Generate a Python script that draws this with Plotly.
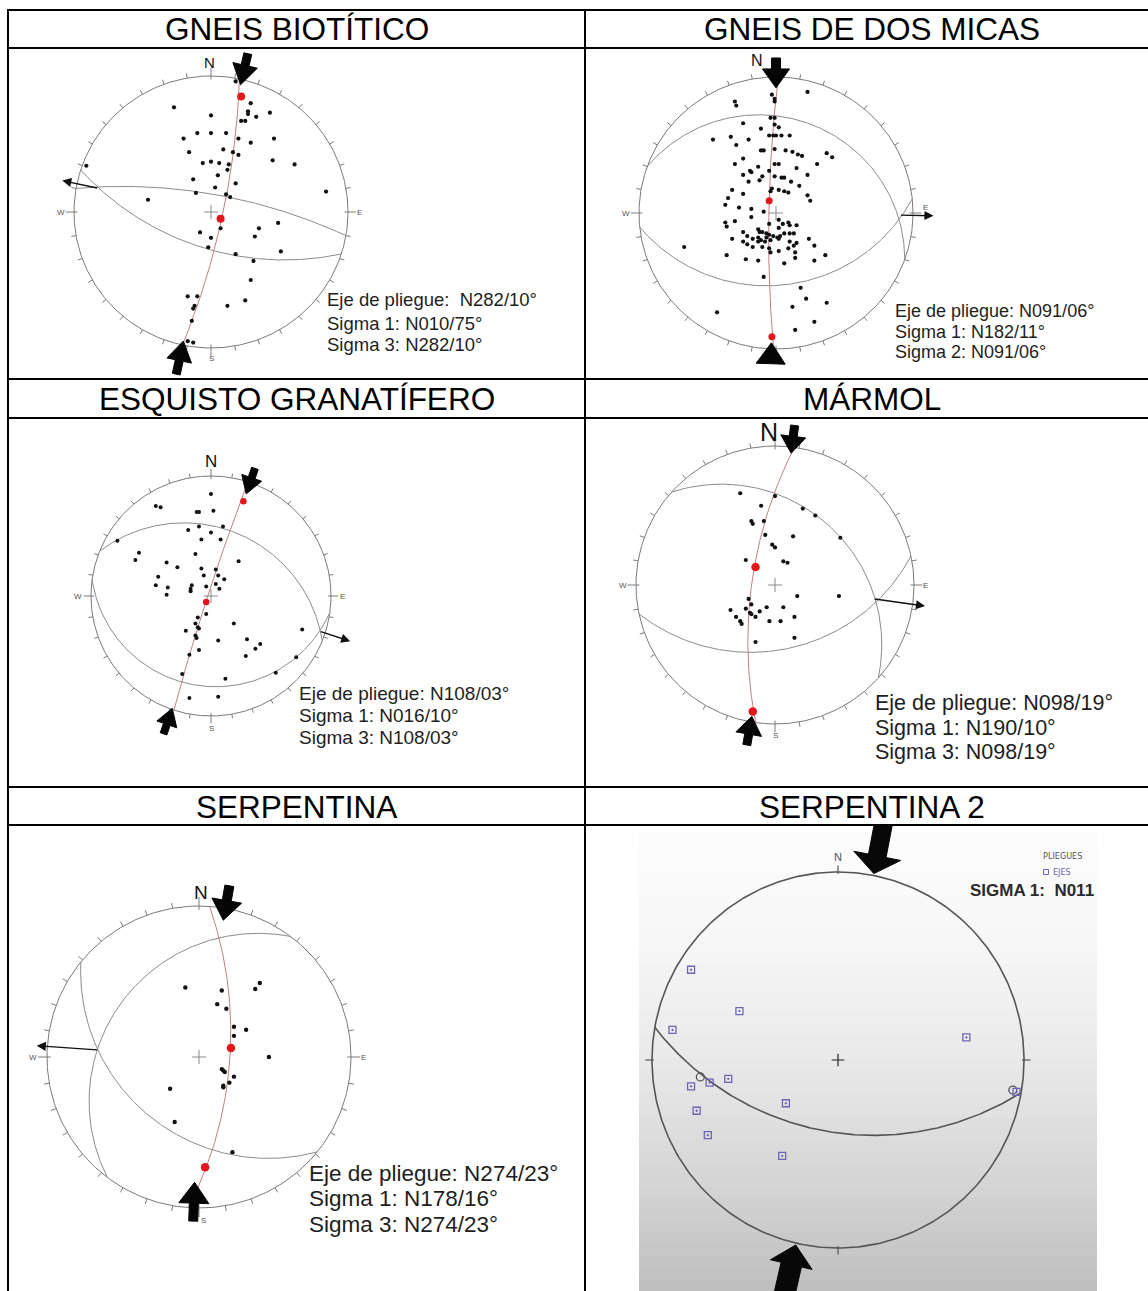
import numpy as np
import plotly.graph_objects as go

W, H = 1148, 1291

titles = ["GNEIS BIOTÍTICO", "GNEIS DE DOS MICAS", "ESQUISTO GRANATÍFERO",
          "MÁRMOL", "SERPENTINA", "SERPENTINA 2"]

# ---------------- Gneis biotítico (projected poles, unit net coords) ----------------
gb_pole_x = [0.18, 0.29, -0.27, 0.27, 0.27, 0.43, 0.00, 0.33, 0.22, 0.25,
             -0.20, -0.10, 0.00, 0.11, 0.20, 0.29, 0.46, -0.16, 0.09, 0.16,
             0.20, -0.06, 0.00, 0.06, 0.13, 0.12, 0.45, 0.61, 0.05, -0.13,
             0.18, 0.03, -0.46, 0.11, 0.14, -0.11, 0.84, 0.07, -0.08, 0.00,
             0.35, 0.32, 0.49, -0.02, 0.51, 0.18, 0.31, 0.29, -0.17, -0.10,
             0.25, 0.12, -0.12, -0.13, -0.14, -0.17, -0.13, -0.91]
gb_pole_y = [0.96, 0.80, 0.77, 0.74, 0.72, 0.73, 0.71, 0.70, 0.67, 0.67,
             0.54, 0.58, 0.58, 0.58, 0.54, 0.51, 0.54, 0.44, 0.46, 0.44,
             0.42, 0.36, 0.37, 0.36, 0.35, 0.31, 0.38, 0.35, 0.27, 0.24,
             0.21, 0.18, 0.09, 0.13, 0.11, 0.14, 0.15, -0.12, -0.15, -0.19,
             -0.12, -0.18, -0.08, -0.26, -0.29, -0.31, -0.36, -0.50, -0.62, -0.62,
             -0.65, -0.69, -0.69, -0.71, -0.80, -0.95, -0.96, 0.34]
gb_sigma_x = [0.22, 0.07]
gb_sigma_y = [0.85, -0.05]
gb_plane_dd = [10, 198]
gb_plane_dip = [75, 60]
gb_axis = (282, 10)
gb_arrow_trend = [13, 192]
gb_arrow_tip = [0.96, 0.97]
gb_notes = ["Eje de pliegue: \u00a0N282/10°", "Sigma 1: N010/75°", "Sigma 3: N282/10°"]

# ---------------- Gneis de dos micas ----------------
gm_pole_x = [0.23, -0.03, -0.01, -0.01, -0.30, -0.29, -0.04, -0.01, -0.24, -0.01,
             -0.11, 0.02, -0.46, -0.33, -0.20, -0.05, -0.02, 0.00, 0.04, 0.10,
             -0.29, -0.01, 0.07, 0.12, 0.16, 0.19, 0.37, 0.41, -0.11, -0.09,
             -0.24, -0.01, 0.02, -0.30, -0.13, 0.15, 0.30, -0.19, -0.18, -0.05,
             -0.24, -0.10, -0.01, 0.04, 0.06, -0.20, -0.12, 0.11, 0.17, 0.23,
             -0.04, -0.03, 0.02, 0.06, 0.09, -0.32, -0.24, -0.35, 0.23, 0.25,
             -0.37, -0.27, -0.18, -0.09, -0.18, 0.02, -0.37, -0.36, -0.30, -0.05,
             0.05, 0.09, 0.10, 0.15, 0.02, -0.24, -0.13, -0.12, -0.10, -0.07,
             -0.05, -0.02, -0.21, -0.17, -0.13, -0.11, -0.07, 0.01, 0.03, 0.06,
             0.10, 0.13, -0.24, -0.21, -0.17, -0.13, -0.32, -0.08, -0.04, 0.02,
             0.10, 0.15, -0.10, -0.05, 0.02, 0.09, 0.13, 0.24, -0.36, -0.22,
             -0.13, -0.04, 0.06, 0.14, 0.14, 0.28, 0.36, 0.28, -0.09, -0.67,
             -0.43, 0.18, 0.22, 0.37, 0.12, 0.28, 0.14]
gm_pole_y = [0.89, 0.87, 0.84, 0.82, 0.82, 0.79, 0.70, 0.70, 0.66, 0.65,
             0.62, 0.63, 0.54, 0.56, 0.54, 0.57, 0.57, 0.57, 0.57, 0.57,
             0.50, 0.47, 0.46, 0.45, 0.43, 0.42, 0.44, 0.41, 0.46, 0.46,
             0.40, 0.36, 0.36, 0.36, 0.34, 0.33, 0.36, 0.31, 0.30, 0.31,
             0.28, 0.27, 0.27, 0.26, 0.26, 0.23, 0.24, 0.23, 0.20, 0.28,
             0.16, 0.18, 0.17, 0.16, 0.15, 0.17, 0.14, 0.11, 0.13, 0.09,
             0.06, 0.04, 0.03, 0.01, -0.03, -0.05, -0.07, -0.10, -0.06, -0.08,
             -0.08, -0.07, -0.09, -0.09, -0.11, -0.14, -0.12, -0.14, -0.14, -0.15,
             -0.16, -0.17, -0.17, -0.19, -0.18, -0.20, -0.18, -0.18, -0.17, -0.15,
             -0.15, -0.15, -0.21, -0.23, -0.25, -0.21, -0.19, -0.21, -0.20, -0.19,
             -0.21, -0.22, -0.25, -0.26, -0.28, -0.26, -0.24, -0.19, -0.31, -0.34,
             -0.35, -0.29, -0.37, -0.29, -0.33, -0.24, -0.31, -0.35, -0.47, -0.25,
             -0.73, -0.55, -0.63, -0.66, -0.69, -0.80, -0.86]
gm_sigma_x = [-0.05, -0.03]
gm_sigma_y = [0.09, -0.91]
gm_plane_dd = [20, 174]
gm_plane_dip = [20, 34]
gm_axis = (91, 6)
gm_arrow_trend = [0, 182]
gm_arrow_tip = [0.92, 0.955]
gm_notes = ["Eje de pliegue: N091/06°", "Sigma 1: N182/11°", "Sigma 2: N091/06°"]

# ---------------- Esquisto granatífero ----------------
eg_pole_x = [0.00, -0.46, -0.42, -0.12, -0.10, 0.02, -0.19, -0.10, 0.00, 0.10,
             -0.78, -0.08, 0.08, -0.60, -0.63, -0.13, -0.37, -0.28, 0.23, -0.08,
             0.04, -0.44, -0.06, 0.06, 0.11, -0.46, -0.36, -0.16, -0.17, -0.17,
             -0.04, 0.04, 0.07, -0.37, -0.04, -0.11, -0.13, -0.11, -0.10, -0.21,
             -0.13, -0.12, 0.19, 0.76, 0.06, 0.30, 0.41, 0.37, -0.10, -0.18,
             0.29, 0.71, 0.54, -0.24, 0.12, -0.18, 0.06]
eg_pole_y = [0.85, 0.75, 0.74, 0.70, 0.70, 0.71, 0.55, 0.58, 0.53, 0.58,
             0.46, 0.47, 0.47, 0.36, 0.30, 0.35, 0.28, 0.24, 0.29, 0.23,
             0.22, 0.16, 0.17, 0.17, 0.14, 0.09, 0.07, 0.09, 0.06, 0.04,
             0.08, 0.10, 0.06, 0.01, -0.15, -0.18, -0.23, -0.26, -0.27, -0.29,
             -0.33, -0.35, -0.23, -0.28, -0.37, -0.36, -0.40, -0.44, -0.45, -0.49,
             -0.50, -0.51, -0.64, -0.65, -0.69, -0.85, -0.84]
eg_sigma_x = [0.27, -0.04]
eg_sigma_y = [0.79, -0.05]
eg_plane_dd = [22, 188]
eg_plane_dip = [31, 16]
eg_axis = (108, 3)
eg_arrow_trend = [19, 199]
eg_arrow_tip = [0.90, 0.99]
eg_notes = ["Eje de pliegue: N108/03°", "Sigma 1: N016/10°", "Sigma 3: N108/03°"]

# ---------------- Mármol ----------------
ma_pole_x = [-0.25, 0.00, -0.10, 0.20, 0.29, -0.17, -0.16, -0.08, -0.07, 0.13,
             0.47, -0.02, 0.00, -0.21, 0.06, 0.09, 0.16, 0.46, -0.19, -0.17,
             -0.32, -0.21, -0.18, -0.17, -0.11, -0.06, 0.06, -0.28, -0.25, -0.24,
             -0.14, -0.04, 0.04, 0.14, 0.14, -0.14]
ma_pole_y = [0.66, 0.64, 0.57, 0.55, 0.50, 0.46, 0.44, 0.46, 0.36, 0.35,
             0.34, 0.29, 0.27, 0.18, 0.17, 0.16, -0.08, -0.08, -0.10, -0.14,
             -0.18, -0.17, -0.20, -0.21, -0.19, -0.16, -0.16, -0.23, -0.26, -0.28,
             -0.23, -0.26, -0.26, -0.23, -0.38, -0.41]
ma_sigma_x = [-0.14, -0.16]
ma_sigma_y = [0.13, -0.91]
ma_plane_dd = [42, 168]
ma_plane_dip = [30, 40]
ma_axis = (98, 19)
ma_arrow_trend = [7, 190]
ma_arrow_tip = [0.955, 0.96]
ma_notes = ["Eje de pliegue: N098/19°", "Sigma 1: N190/10°", "Sigma 3: N098/19°"]

# ---------------- Serpentina ----------------
se_pole_x = [-0.09, 0.15, 0.40, 0.37, 0.12, 0.18, 0.23, 0.31, 0.23, 0.46,
             0.15, 0.16, 0.17, 0.23, 0.20, 0.16, 0.16, -0.19, -0.16, 0.22]
se_pole_y = [0.46, 0.44, 0.49, 0.45, 0.35, 0.32, 0.20, 0.18, 0.14, 0.00,
             -0.08, -0.09, -0.10, -0.13, -0.17, -0.19, -0.20, -0.21, -0.43, -0.63]
se_sigma_x = [0.21, 0.04]
se_sigma_y = [0.06, -0.73]
se_plane_dd = [307, 219]
se_plane_dip = [26, 36]
se_axis = (274, 23)
se_arrow_trend = [10, 182]
se_arrow_tip = [0.92, 0.83]
se_notes = ["Eje de pliegue: N274/23°", "Sigma 1: N178/16°", "Sigma 3: N274/23°"]

# ---------------- Serpentina 2 (fold axes plotted as squares) ----------------
s2_axes_x = [-0.79, -0.53, -0.89, 0.69, -0.69, -0.59, -0.79, -0.28, -0.76, -0.70, -0.30, 0.96]
s2_axes_y = [0.48, 0.26, 0.16, 0.12, -0.12, -0.10, -0.14, -0.23, -0.27, -0.40, -0.51, -0.17]
s2_beta_x = [-0.74, 0.94]
s2_beta_y = [-0.09, -0.16]
s2_plane_dd = [190]
s2_plane_dip = [48]
s2_arrow_trend = [11, 193]
s2_arrow_tip = [1.01, 1.01]
s2_label = "SIGMA 1: \u00a0N011"


# ---------------- geometry helpers (lower hemisphere, stereographic) ----------------
def stereo(trend, plunge):
    t = np.radians(np.asarray(trend, float))
    p = np.radians(np.asarray(plunge, float))
    r = np.tan((np.pi / 2 - p) / 2)
    return r * np.sin(t), r * np.cos(t)


def great_circle(dd, dip, n=241):
    a = np.radians(dd)
    s = a - np.pi / 2
    d = np.radians(dip)
    t = np.linspace(0, np.pi, n)
    north = np.cos(t) * np.cos(s) + np.sin(t) * np.cos(d) * np.cos(a)
    east = np.cos(t) * np.sin(s) + np.sin(t) * np.cos(d) * np.sin(a)
    down = np.sin(t) * np.sin(d)
    trend = np.degrees(np.arctan2(east, north))
    plunge = np.degrees(np.arcsin(np.clip(down, -1, 1)))
    return stereo(trend, plunge)


def tick_marks(step, card_in, card_out, minor_out):
    xs, ys = [], []
    for a in range(0, 360, step):
        r0, r1 = (card_in, card_out) if a % 90 == 0 else (1.0, minor_out)
        t = np.radians(a)
        xs += [r0 * np.sin(t), r1 * np.sin(t), None]
        ys += [r0 * np.cos(t), r1 * np.cos(t), None]
    return xs, ys


def big_arrow(trend, tip_r, size, rpx):
    hl, hw, sl, sw = size
    t = np.radians(trend)
    out = np.array([np.sin(t), np.cos(t)])
    d = -out
    nrm = np.array([out[1], -out[0]])
    tip = tip_r * out
    base = tip - d * hl / rpx
    end = base - d * sl / rpx
    hw2, sw2 = hw / 2 / rpx, sw / 2 / rpx
    pts = [tip, base + nrm * hw2, base + nrm * sw2, end + nrm * sw2,
           end - nrm * sw2, base - nrm * sw2, base - nrm * hw2, tip]
    return [p[0] for p in pts], [p[1] for p in pts]


panels = [
    dict(cell=(8, 48, 585, 379), c=(211, 212), r=(137, 136),
         poles=(gb_pole_x, gb_pole_y), sig=(gb_sigma_x, gb_sigma_y),
         planes=(gb_plane_dd, gb_plane_dip), axis=gb_axis,
         arrows=(gb_arrow_trend, gb_arrow_tip), asize=[(20, 25, 12, 8), (20, 25, 14, 8)],
         axis_end=1.11, notes=gb_notes, note_x=325, note_y=[300, 323, 345], note_size=18.5,
         north=(-0.01, 1.10, 15), cards=[("W", -1.05, 0, "right"), ("E", 1.05, 0, "left"), ("S", 0, -1.08, "center")],
         dot=4.2, red=8),
    dict(cell=(585, 48, 1148, 379), c=(776, 213), r=(137, 136),
         poles=(gm_pole_x, gm_pole_y), sig=(gm_sigma_x, gm_sigma_y),
         planes=(gm_plane_dd, gm_plane_dip), axis=gm_axis,
         arrows=(gm_arrow_trend, gm_arrow_tip), asize=[(19, 27, 11, 9), (21, 29, 0, 0)],
         axis_end=1.15, notes=gm_notes, note_x=893, note_y=[311, 332, 352], note_size=18,
         north=(-0.14, 1.12, 16), cards=[("W", -1.05, 0, "right"), ("E", 1.06, 0.04, "left")],
         dot=4.2, red=7),
    dict(cell=(8, 418, 585, 787), c=(211, 596), r=(120, 120),
         poles=(eg_pole_x, eg_pole_y), sig=(eg_sigma_x, eg_sigma_y),
         planes=(eg_plane_dd, eg_plane_dip), axis=eg_axis,
         arrows=(eg_arrow_trend, eg_arrow_tip), asize=[(17, 21, 10, 7), (17, 21, 10, 7)],
         axis_end=1.22, notes=eg_notes, note_x=297, note_y=[693, 715, 737], note_size=19,
         north=(0.0, 1.12, 17), cards=[("W", -1.06, 0, "right"), ("E", 1.06, 0, "left"), ("S", 0, -1.1, "center")],
         dot=4.0, red=6.5),
    dict(cell=(585, 418, 1148, 787), c=(775, 585), r=(139, 139),
         poles=(ma_pole_x, ma_pole_y), sig=(ma_sigma_x, ma_sigma_y),
         planes=(ma_plane_dd, ma_plane_dip), axis=ma_axis,
         arrows=(ma_arrow_trend, ma_arrow_tip), asize=[(17, 25, 11, 8), (18, 26, 11, 8)],
         axis_end=1.09, notes=ma_notes, note_x=873, note_y=[703, 728, 752], note_size=21.5,
         north=(-0.04, 1.10, 25), cards=[("W", -1.05, 0, "right"), ("E", 1.05, 0, "left"), ("S", 0, -1.08, "center")],
         dot=4.2, red=8.5),
    dict(cell=(8, 825, 585, 1291), c=(199, 1057), r=(152, 151),
         poles=(se_pole_x, se_pole_y), sig=(se_sigma_x, se_sigma_y),
         planes=(se_plane_dd, se_plane_dip), axis=se_axis,
         arrows=(se_arrow_trend, se_arrow_tip), asize=[(20, 30, 15, 9), (21, 30, 18, 9)],
         axis_end=1.07, notes=se_notes, note_x=307, note_y=[1173, 1198, 1224], note_size=22.5,
         north=(0.01, 1.09, 19), cards=[("W", -1.05, 0, "right"), ("E", 1.05, 0, "left"), ("S", 0.03, -1.08, "center")],
         dot=4.4, red=8.5),
]

fig = go.Figure()
annotations = []
shapes = []
layout_axes = {}


def axis_names(k):
    return ("x" if k == 1 else f"x{k}", "y" if k == 1 else f"y{k}",
            "xaxis" if k == 1 else f"xaxis{k}", "yaxis" if k == 1 else f"yaxis{k}")


def set_axes(k, cell, c, r):
    xa, ya, xk, yk = axis_names(k)
    x0, y0, x1, y1 = cell
    cx, cy = c
    rx, ry = r
    layout_axes[xk] = dict(domain=[x0 / W, x1 / W], range=[(x0 - cx) / rx, (x1 - cx) / rx],
                           visible=False, fixedrange=True, anchor=ya)
    layout_axes[yk] = dict(domain=[1 - y1 / H, 1 - y0 / H], range=[(cy - y1) / ry, (cy - y0) / ry],
                           visible=False, fixedrange=True, anchor=xa)
    return xa, ya


# ---- background gradient of the Serpentina 2 screenshot ----
n_band = 40
for i in range(n_band):
    ya0 = 825 + i * (1291 - 825) / n_band
    ya1 = ya0 + (1291 - 825) / n_band + 0.5
    tt = (i + 0.5) / n_band
    g = int(round(252 - 62 * tt ** 1.7))
    shapes.append(dict(type="rect", xref="paper", yref="paper", layer="below",
                       x0=639 / W, x1=1097 / W, y0=1 - ya1 / H, y1=1 - ya0 / H,
                       line=dict(width=0), fillcolor=f"rgb({g},{g},{g})"))

prim_t = np.linspace(0, 2 * np.pi, 361)

for k, p in enumerate(panels, start=1):
    xa, ya = set_axes(k, p["cell"], p["c"], p["r"])
    rpx = (p["r"][0] + p["r"][1]) / 2
    # primitive circle and ticks
    fig.add_trace(go.Scatter(x=np.sin(prim_t), y=np.cos(prim_t), mode="lines",
                             line=dict(color="#7a7a7a", width=1), xaxis=xa, yaxis=ya, hoverinfo="skip"))
    tx, ty = tick_marks(10, 0.975, 1.06, 1.035)
    fig.add_trace(go.Scatter(x=tx, y=ty, mode="lines", line=dict(color="#7a7a7a", width=1),
                             xaxis=xa, yaxis=ya, hoverinfo="skip"))
    # cyclographic traces of the fold limbs
    for dd, dip in zip(*p["planes"]):
        gx, gy = great_circle(dd, dip)
        fig.add_trace(go.Scatter(x=gx, y=gy, mode="lines", line=dict(color="#8c8c8c", width=1),
                                 xaxis=xa, yaxis=ya, hoverinfo="skip"))
    # plane normal to the fold axis (sigma plane)
    tr, pl = p["axis"]
    rx_, ry_ = great_circle((tr + 180) % 360, 90 - pl)
    fig.add_trace(go.Scatter(x=rx_, y=ry_, mode="lines", line=dict(color="#c07f82", width=1),
                             xaxis=xa, yaxis=ya, hoverinfo="skip"))
    # centre cross
    fig.add_trace(go.Scatter(x=[0], y=[0], mode="markers",
                             marker=dict(symbol="cross-thin", size=10, line=dict(color="#8a8a8a", width=1)),
                             xaxis=xa, yaxis=ya, hoverinfo="skip"))
    # poles
    fig.add_trace(go.Scatter(x=p["poles"][0], y=p["poles"][1], mode="markers",
                             marker=dict(size=p["dot"], color="#111111"),
                             xaxis=xa, yaxis=ya, hoverinfo="skip"))
    # principal stress positions
    fig.add_trace(go.Scatter(x=p["sig"][0], y=p["sig"][1], mode="markers",
                             marker=dict(size=p["red"], color="#e3161c"),
                             xaxis=xa, yaxis=ya, hoverinfo="skip"))
    # compression arrows
    for trd, tip, size in zip(p["arrows"][0], p["arrows"][1], p["asize"]):
        axs, ays = big_arrow(trd, tip, size, rpx)
        fig.add_trace(go.Scatter(x=axs, y=ays, mode="lines", fill="toself", fillcolor="#050505",
                                 line=dict(color="#050505", width=1), xaxis=xa, yaxis=ya, hoverinfo="skip"))
    # extension arrow from the fold axis
    fx, fy = stereo(tr, pl)
    ex, ey = stereo(tr, 0)
    annotations.append(dict(x=float(ex) * p["axis_end"], y=float(ey) * p["axis_end"],
                            ax=float(fx), ay=float(fy), xref=xa, yref=ya, axref=xa, ayref=ya,
                            showarrow=True, arrowhead=2, arrowsize=1.3, arrowwidth=1.4,
                            arrowcolor="#111111", text=""))
    # north and cardinal labels
    nx, ny, ns = p["north"]
    annotations.append(dict(x=nx, y=ny, xref=xa, yref=ya, text="N", showarrow=False,
                            font=dict(size=ns, color="#111111")))
    for lab, lx, ly, anc in p["cards"]:
        annotations.append(dict(x=lx, y=ly, xref=xa, yref=ya, text=lab, showarrow=False,
                                xanchor=anc, font=dict(size=8, color="#555555")))
    # notes
    for txt, yy in zip(p["notes"], p["note_y"]):
        annotations.append(dict(x=p["note_x"] / W, y=1 - yy / H, xref="paper", yref="paper",
                                text=txt, showarrow=False, xanchor="left", yanchor="middle",
                                font=dict(size=p["note_size"], color="#1e1e1e")))

# ---------------- Serpentina 2 ----------------
k6 = 6
s2_c, s2_r = (838, 1060), (186, 188)
xa, ya = set_axes(k6, (585, 825, 1148, 1291), s2_c, s2_r)
fig.add_trace(go.Scatter(x=np.sin(prim_t), y=np.cos(prim_t), mode="lines",
                         line=dict(color="#555555", width=1.6), xaxis=xa, yaxis=ya, hoverinfo="skip"))
tx, ty = tick_marks(90, 0.99, 1.035, 1.0)
fig.add_trace(go.Scatter(x=tx, y=ty, mode="lines", line=dict(color="#555555", width=1.2),
                         xaxis=xa, yaxis=ya, hoverinfo="skip"))
for dd, dip in zip(s2_plane_dd, s2_plane_dip):
    gx, gy = great_circle(dd, dip)
    fig.add_trace(go.Scatter(x=gx, y=gy, mode="lines", line=dict(color="#555555", width=1.6),
                             xaxis=xa, yaxis=ya, hoverinfo="skip"))
fig.add_trace(go.Scatter(x=[0], y=[0], mode="markers",
                         marker=dict(symbol="cross-thin", size=9, line=dict(color="#222222", width=1.2)),
                         xaxis=xa, yaxis=ya, hoverinfo="skip"))
fig.add_trace(go.Scatter(x=s2_beta_x, y=s2_beta_y, mode="markers",
                         marker=dict(symbol="circle-open", size=8, color="#555555",
                                     line=dict(color="#555555", width=1.3)),
                         xaxis=xa, yaxis=ya, hoverinfo="skip"))
fig.add_trace(go.Scatter(x=s2_axes_x, y=s2_axes_y, mode="markers",
                         marker=dict(symbol="square-open-dot", size=7, color="#6c64b4",
                                     line=dict(color="#6c64b4", width=1.3)),
                         xaxis=xa, yaxis=ya, hoverinfo="skip"))
for trd, tip, size in zip(s2_arrow_trend, s2_arrow_tip, [(18, 48, 35, 18), (20, 43, 45, 21)]):
    axs, ays = big_arrow(trd, tip, size, 187)
    fig.add_trace(go.Scatter(x=axs, y=ays, mode="lines", fill="toself", fillcolor="#080808",
                             line=dict(color="#080808", width=1), xaxis=xa, yaxis=ya, hoverinfo="skip"))
annotations.append(dict(x=0, y=1.08, xref=xa, yref=ya, text="N", showarrow=False,
                        font=dict(size=11, color="#555555")))

# legend of the screenshot: "PLIEGUES" heading, square key for "EJES"
narrow = "Liberation Sans Narrow, DejaVu Sans Condensed, Arial"
key_px = (1046, 872)
fig.add_trace(go.Scatter(x=[(key_px[0] - s2_c[0]) / s2_r[0]], y=[(s2_c[1] - key_px[1]) / s2_r[1]],
                         mode="markers", marker=dict(symbol="square-open", size=5, color="#6c64b4",
                                                     line=dict(color="#6c64b4", width=1)),
                         xaxis=xa, yaxis=ya, hoverinfo="skip"))
annotations.append(dict(x=1062 / W, y=1 - 856 / H, xref="paper", yref="paper", text="PLIEGUES",
                        showarrow=False, xanchor="center", yanchor="middle",
                        font=dict(size=9, color="#555555", family=narrow)))
annotations.append(dict(x=1051 / W, y=1 - 872 / H, xref="paper", yref="paper", text="EJES",
                        showarrow=False, xanchor="left", yanchor="middle",
                        font=dict(size=9, color="#6c64b4", family=narrow)))
annotations.append(dict(x=1096 / W, y=1 - 890 / H, xref="paper", yref="paper", text=f"<b>{s2_label}</b>",
                        showarrow=False, xanchor="right", yanchor="middle",
                        font=dict(size=17, color="#2b2b2b")))

# ---------------- table frame and headers ----------------
for yy in [10, 48, 379, 418, 787, 825]:
    shapes.append(dict(type="line", xref="paper", yref="paper", x0=7 / W, x1=1, y0=1 - yy / H, y1=1 - yy / H,
                       line=dict(color="black", width=2), layer="above"))
for xx in [8, 585]:
    shapes.append(dict(type="line", xref="paper", yref="paper", x0=xx / W, x1=xx / W, y0=0, y1=1 - 9 / H,
                       line=dict(color="black", width=2), layer="above"))

head_pos = [(296.5, 29), (872, 29), (296.5, 398.5), (872, 398.5), (296.5, 806.5), (872, 806.5)]
for t, (hx, hy) in zip(titles, head_pos):
    annotations.append(dict(x=hx / W, y=1 - hy / H, xref="paper", yref="paper", text=t,
                            showarrow=False, xanchor="center", yanchor="middle",
                            font=dict(size=31.5, color="black")))

fig.update_layout(width=W, height=H, margin=dict(l=0, r=0, t=0, b=0),
                  paper_bgcolor="white", plot_bgcolor="rgba(0,0,0,0)", showlegend=False,
                  font=dict(family="Liberation Sans, Arial, sans-serif"),
                  annotations=annotations, shapes=shapes, **layout_axes)

fig.write_html("out.html")
